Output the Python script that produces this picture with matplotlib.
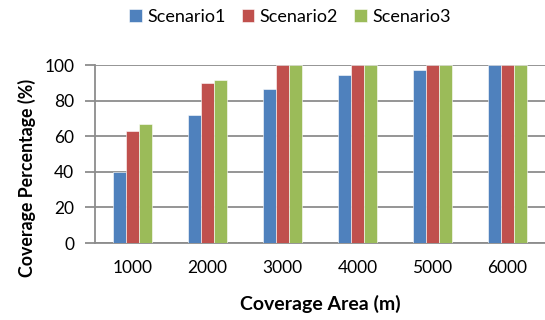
import matplotlib.pyplot as plt
import numpy as np

plt.rcParams['font.family'] = ['Lato', 'DejaVu Sans']

areas = ['1000', '2000', '3000', '4000', '5000', '6000']
scenario1 = [40.0, 71.9, 86.5, 94.4, 97.4, 100]
scenario2 = [63.0, 89.9, 100, 100, 100, 100]
scenario3 = [66.8, 91.4, 100, 100, 100, 100]
names = ['Scenario1', 'Scenario2', 'Scenario3']
colors = ['#4F81BD', '#C0504D', '#9BBB59']

fig = plt.figure(figsize=(5.45, 3.2), dpi=100)
ax = fig.add_axes([95 / 545, 1 - 243 / 320, 450 / 545, 178 / 320])

x = np.arange(len(areas))
w = 0.17
for i, (vals, name, c) in enumerate(zip([scenario1, scenario2, scenario3], names, colors)):
    ax.bar(x + (i - 1) * w, vals, w, color=c, label=name, edgecolor='white', linewidth=0.4, zorder=3)

ax.set_xlim(-0.5, len(areas) - 0.5)
ax.set_ylim(0, 100)
ax.set_yticks(range(0, 101, 20))
ax.set_xticks(x)
ax.set_xticklabels(areas)
ax.grid(axis='y', color='#8c8c8c', linewidth=1.3, zorder=0)
for s in ['top', 'right']:
    ax.spines[s].set_visible(False)
for s in ['left', 'bottom']:
    ax.spines[s].set_color('#8c8c8c')
    ax.spines[s].set_linewidth(1.3)
ax.tick_params(axis='y', length=7, color='#8c8c8c', width=1.3, labelsize=12.5, pad=8)
ax.tick_params(axis='x', length=0, labelsize=12.5, pad=12)

ax.set_xlabel('Coverage Area (m)', fontsize=14, fontweight='bold')
ax.xaxis.set_label_coords(0.5, -(304 - 243) / 178, transform=ax.transAxes)
ax.xaxis.label.set_va('center')
ax.set_ylabel('Coverage Percentage (%)', fontsize=12.8, fontweight='bold')
ax.yaxis.set_label_coords(-(95 - 27) / 450, 0.368, transform=ax.transAxes)
ax.yaxis.label.set_va('center')

fig.legend(loc='center', bbox_to_anchor=(290 / 545, 1 - 17 / 320), ncol=3, frameon=False,
           fontsize=13, handlelength=0.7, handleheight=0.7, handletextpad=0.3, columnspacing=0.9)

fig.savefig('out.png', dpi=100)
